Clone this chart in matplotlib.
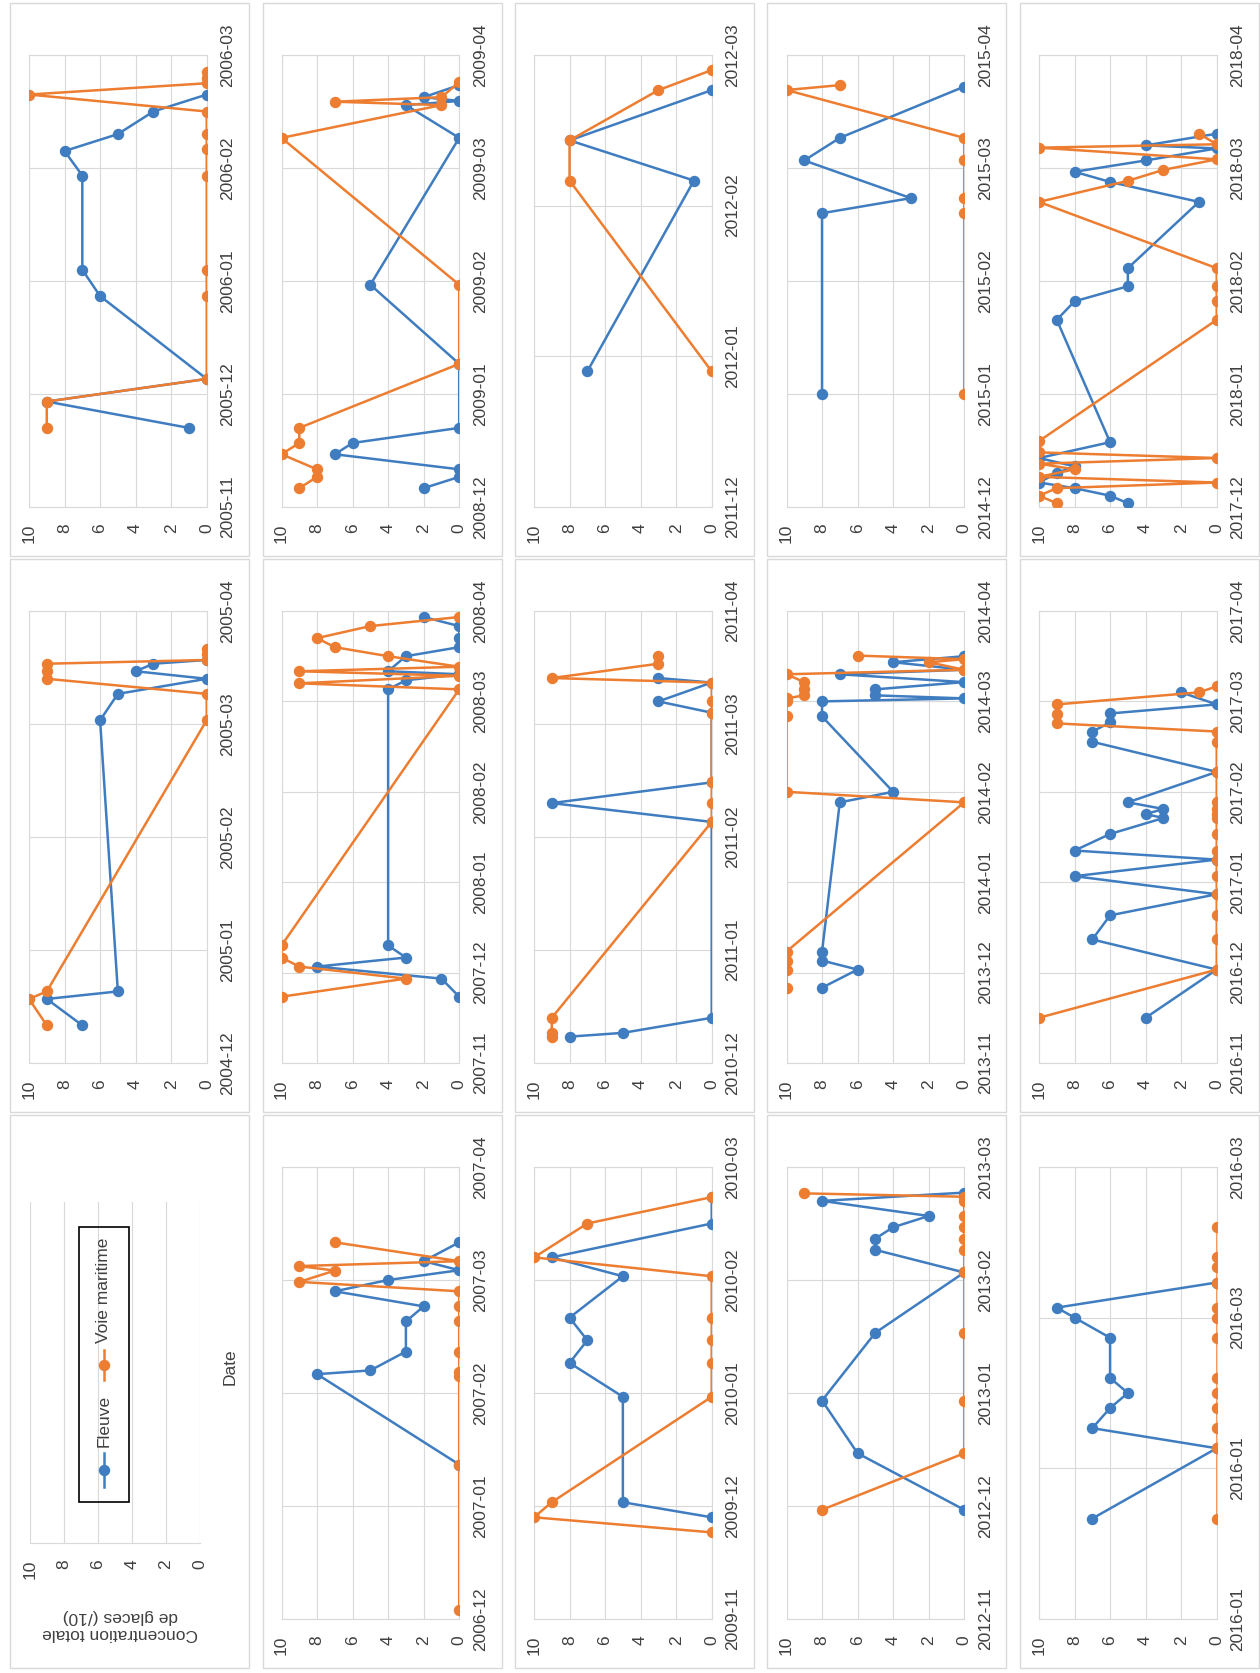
import numpy as np
import pandas as pd
import matplotlib
matplotlib.use('Agg')
import matplotlib.pyplot as plt
import matplotlib.dates as mdates
from matplotlib.lines import Line2D
from matplotlib.patches import Rectangle

plt.rcParams['font.family'] = ['Liberation Sans', 'DejaVu Sans']

BLEU = '#3f7dc0'
ORANGE = '#ed7d31'
GRIS = '#d9d9d9'
TEXTE = '#404040'

################################################################
# Données : jours depuis le début de l'axe (j) et concentration /10 (c)
# fl = Fleuve, vm = Voie maritime
################################################################
fl_0405_j = [10, 17, 19, 91, 98, 102, 104, 106, 107]
fl_0405_c = [7, 9, 5, 6, 5, 0, 4, 3, 0]
vm_0405_j = [10, 17, 19, 91, 98, 102, 104, 106, 107, 108.5, 110]
vm_0405_c = [9, 10, 9, 0, 0, 9, 9, 9, 0, 0, 0]

fl_0506_j = [21, 28, 34, 56, 63, 88, 94.5, 99, 105, 109.5]
fl_0506_c = [1, 9, 0, 6, 7, 7, 8, 5, 3, 0]
vm_0506_j = [21, 28, 34, 56, 63, 88, 95, 99, 105, 109.5, 112.5, 114, 115.5]
vm_0506_c = [9, 9, 0, 0, 0, 0, 0, 0, 0, 10, 0, 0, 0]

fl_0607_j = [41, 65, 66, 71, 79, 83, 87, 90, 92.6, 95, 100]
fl_0607_c = [0, 8, 5, 3, 3, 2, 7, 4, 0, 2, 0]
vm_0607_j = [2.4, 41, 64.5, 65.5, 71, 79, 83, 87, 89.5, 92.5, 93.7, 95, 100]
vm_0607_c = [0, 0, 0, 0, 0, 0, 0, 0, 9, 7, 9, 0, 7]

fl_0708_j = [22, 28, 32, 35, 39, 124, 127, 129, 130, 135, 138, 141, 145, 148]
fl_0708_c = [0, 1, 8, 3, 4, 4, 3, 0, 4, 3, 0, 0, 0, 2]
vm_0708_j = [22, 28, 32, 35, 39, 124, 126, 128.5, 130, 131.5, 135, 138, 141, 145, 148]
vm_0708_c = [10, 3, 9, 10, 10, 0, 9, 0, 9, 0, 4, 7, 8, 5, 0]

fl_0809_j = [5, 8, 10, 14, 17, 21, 38, 59, 98, 106.7, 107.8, 108.8, 112]
fl_0809_c = [2, 0, 0, 7, 6, 0, 0, 5, 0, 3, 0, 2, 0]
vm_0809_j = [5, 8, 10, 14, 17, 21, 38, 59, 98, 106.7, 107.6, 108.8, 112.8]
vm_0809_c = [9, 8, 8, 10, 9, 9, 0, 0, 10, 1, 7, 1, 0]

fl_0910_j = [27, 31, 59, 68, 74, 80, 91, 96, 105, 112]
fl_0910_c = [0, 5, 5, 8, 7, 8, 5, 9, 0, 0]
vm_0910_j = [23, 27, 31, 59, 68, 74, 80, 91, 96, 105, 112]
vm_0910_c = [0, 10, 9, 0, 0, 0, 0, 0, 10, 7, 0]

fl_1011_j = [7, 8, 12, 64, 69, 74.5, 93, 96, 101, 102.2]
fl_1011_c = [8, 5, 0, 0, 9, 0, 0, 3, 0, 3]
vm_1011_j = [7, 8, 12, 64, 69, 74.5, 93, 96, 101, 102.2, 106, 108]
vm_1011_c = [9, 9, 9, 0, 0, 0, 0, 0, 0, 9, 3, 3]

fl_1112_j = [27, 65, 73, 83]
fl_1112_c = [7, 1, 8, 0]
vm_1112_j = [27, 65, 73, 83, 87]
vm_1112_c = [0, 8, 8, 3, 0]

fl_1213_j = [29, 44, 58, 76, 92, 98, 101, 104, 107, 111, 113.2]
fl_1213_c = [0, 6, 8, 5, 0, 5, 5, 4, 2, 8, 0]
vm_1213_j = [29, 44, 58, 76, 92, 98, 101, 104, 107, 111, 112.1, 113]
vm_1213_c = [8, 0, 0, 0, 0, 0, 0, 0, 0, 0, 0, 9]

fl_1314_j = [25, 31, 34, 37, 86.5, 90, 115, 120, 121, 122, 124, 126.4, 129, 130.5, 133, 135]
fl_1314_c = [8, 6, 8, 8, 7, 4, 8, 8, 0, 5, 5, 0, 7, 0, 4, 0]
vm_1314_j = [25, 31, 34, 37, 86.5, 90, 115, 120, 121, 122, 124, 126.4, 129, 130.5, 133, 134, 135.2]
vm_1314_c = [10, 10, 10, 10, 0, 10, 10, 10, 10, 9, 9, 9, 10, 0, 2, 0, 6]

fl_1415_j = [30, 78, 82, 92, 98, 111.6]
fl_1415_c = [8, 8, 3, 9, 7, 0]
vm_1415_j = [30, 78, 82, 92, 98, 110.7, 112]
vm_1415_c = [0, 0, 0, 0, 0, 10, 7]

fl_2016_j = [20, 34, 38, 42, 45, 48, 56, 60, 62, 67]
fl_2016_c = [7, 0, 7, 6, 5, 6, 6, 8, 9, 0]
vm_2016_j = [20, 34, 38, 42, 45, 48, 56, 60, 62, 67, 70, 72, 78]
vm_2016_c = [0, 0, 0, 0, 0, 0, 0, 0, 0, 0, 0, 0, 0]

fl_1617_j = [15, 31, 41, 49, 56, 62, 67.5, 70.5, 76, 81.3, 82.6, 84.3, 86.5,
             96.6, 106.6, 110, 113, 116, 119, 123]
fl_1617_c = [4, 0, 7, 6, 0, 8, 0, 8, 6, 3, 4, 3, 5, 0, 7, 7, 6, 6, 0, 2]
vm_1617_j = [15, 31, 41, 49, 56, 62, 67.5, 70.5, 76, 81.3, 82.6, 84.3, 86.5,
             96.6, 106.6, 110, 112.7, 115.7, 119, 123, 125]
vm_1617_c = [10, 0, 0, 0, 0, 0, 0, 0, 0, 0, 0, 0, 0, 0, 0, 0, 9, 9, 9, 1, 0]

fl_1718_j = [1, 3, 5, 6.5, 9, 10.8, 13, 17.2, 49.7, 54.6, 58.6, 63.4, 81, 86.3, 89, 92, 95.2, 96, 99.1]
fl_1718_c = [5, 6, 8, 10, 9, 8, 10, 6, 9, 8, 5, 5, 1, 6, 8, 4, 0, 4, 0]
vm_1718_j = [1, 3, 5, 6.5, 8, 10, 11.5, 13, 14.5, 17.5, 49.7, 54.6, 58.6, 63.4,
             81, 86.6, 89.5, 92.3, 95.4, 96.3, 99.1]
vm_1718_c = [9, 10, 9, 0, 10, 8, 10, 0, 10, 10, 0, 0, 0, 0, 10, 5, 3, 0, 10, 0, 1]

# début d'axe et nombre d'intervalles de 30 jours
saisons = [
    ('2004-12-05', 4, fl_0405_j, fl_0405_c, vm_0405_j, vm_0405_c),
    ('2005-11-05', 4, fl_0506_j, fl_0506_c, vm_0506_j, vm_0506_c),
    ('2006-12-05', 4, fl_0607_j, fl_0607_c, vm_0607_j, vm_0607_c),
    ('2007-11-05', 5, fl_0708_j, fl_0708_c, vm_0708_j, vm_0708_c),
    ('2008-12-05', 4, fl_0809_j, fl_0809_c, vm_0809_j, vm_0809_c),
    ('2009-11-05', 4, fl_0910_j, fl_0910_c, vm_0910_j, vm_0910_c),
    ('2010-12-05', 4, fl_1011_j, fl_1011_c, vm_1011_j, vm_1011_c),
    ('2011-12-05', 3, fl_1112_j, fl_1112_c, vm_1112_j, vm_1112_c),
    ('2012-11-05', 4, fl_1213_j, fl_1213_c, vm_1213_j, vm_1213_c),
    ('2013-11-05', 5, fl_1314_j, fl_1314_c, vm_1314_j, vm_1314_c),
    ('2014-12-05', 4, fl_1415_j, fl_1415_c, vm_1415_j, vm_1415_c),
    ('2016-01-01', 3, fl_2016_j, fl_2016_c, vm_2016_j, vm_2016_c),
    ('2016-11-05', 5, fl_1617_j, fl_1617_c, vm_1617_j, vm_1617_c),
    ('2017-12-05', 4, fl_1718_j, fl_1718_c, vm_1718_j, vm_1718_c),
]

W, H = 1260, 1673
fig = plt.figure(figsize=(W / 100, H / 100), dpi=100)


def boite(x0, y0, x1, y1):
    # pixels (origine en haut à gauche) -> [gauche, bas, largeur, hauteur]
    return [x0 / W, 1 - y1 / H, (x1 - x0) / W, (y1 - y0) / H]


def fx(x):
    return x / W


def fy(y):
    return 1 - y / H


FS = 12.5
MS = 7.2
LW = 1.8

for k in range(15):
    # figure tournée : colonne = rang d'origine, rangée = colonne d'origine inversée
    col = k // 3
    row = 2 - k % 3
    px = 10 + 252.5 * col
    py = 3 + 556 * row
    b = boite(px, py, px + 239, py + 553)
    fig.add_artist(Rectangle((b[0], b[1]), b[2], b[3], transform=fig.transFigure,
                             fill=False, ec=GRIS, lw=1))

    if k == 0:
        # panneau légende / titres d'axes
        ax = fig.add_axes(boite(30, 1202, 200, 1543))
        ax.set_xlim(10, 0)
        ax.set_ylim(0, 1)
        ax.set_xticks(range(0, 11, 2))
        ax.set_yticks([])
        ax.grid(True, axis='x', color=GRIS, lw=0.8)
        for s in ['top', 'left', 'right']:
            ax.spines[s].set_visible(False)
        ax.spines['bottom'].set_color(GRIS)
        ax.tick_params(axis='x', length=0, labelsize=FS, labelcolor=TEXTE, pad=12)
        plt.setp(ax.get_xticklabels(), rotation=90, ha='center', va='top')

        fig.text(fx(120), fy(1625), 'Concentration totale\nde glaces (/10)', rotation=180,
                 ha='center', va='center', multialignment='center', fontsize=FS, color=TEXTE)
        fig.text(fx(230), fy(1367), 'Date', rotation=90, ha='center', va='center',
                 fontsize=FS, color=TEXTE)

        lb = boite(79, 1227, 129, 1502)
        fig.add_artist(Rectangle((lb[0], lb[1]), lb[2], lb[3], transform=fig.transFigure,
                                 fill=False, ec='black', lw=1.2))
        for couleur, y0, y1, ym, yt, nom in [(BLEU, 1453, 1487, 1470, 1447, 'Fleuve'),
                                           (ORANGE, 1350, 1380, 1365, 1343, 'Voie maritime')]:
            fig.add_artist(Line2D([fx(104), fx(104)], [fy(y0), fy(y1)], color=couleur, lw=LW,
                                  transform=fig.transFigure))
            fig.add_artist(Line2D([fx(104)], [fy(ym)], marker='o', ms=MS, color=couleur,
                                  transform=fig.transFigure))
            fig.text(fx(104), fy(yt), nom, rotation=90, ha='center', va='bottom',
                     fontsize=FS, color=TEXTE)
        continue

    debut, n, fl_j, fl_c, vm_j, vm_c = saisons[k - 1]
    t0 = pd.Timestamp(debut)
    ax = fig.add_axes(boite(px + 19, py + 52, px + 196.7, py + 504))

    fl_t = t0 + pd.to_timedelta(fl_j, unit='D')
    vm_t = t0 + pd.to_timedelta(vm_j, unit='D')
    ax.plot(fl_c, fl_t, '-o', color=BLEU, lw=LW, ms=MS, zorder=3)
    ax.plot(vm_c, vm_t, '-o', color=ORANGE, lw=LW, ms=MS, zorder=4)

    ticks = [t0 + pd.Timedelta(days=30 * i) for i in range(n + 1)]
    ax.set_xlim(10, 0)
    ax.set_ylim(ticks[0], ticks[-1])
    ax.set_xticks(range(0, 11, 2))
    ax.set_yticks(ticks)
    ax.yaxis.set_major_formatter(mdates.DateFormatter('%Y-%m'))
    ax.yaxis.tick_right()
    ax.grid(True, color=GRIS, lw=0.8)
    ax.set_axisbelow(True)
    for s in ax.spines.values():
        s.set_color(GRIS)
        s.set_linewidth(0.8)
    ax.tick_params(axis='both', length=0, labelsize=FS, labelcolor=TEXTE)
    ax.tick_params(axis='y', pad=10)
    ax.tick_params(axis='x', pad=12)
    plt.setp(ax.get_yticklabels(), rotation=90, ha='left', va='center')
    plt.setp(ax.get_xticklabels(), rotation=90, ha='center', va='top')

fig.savefig('out.png', dpi=100)
